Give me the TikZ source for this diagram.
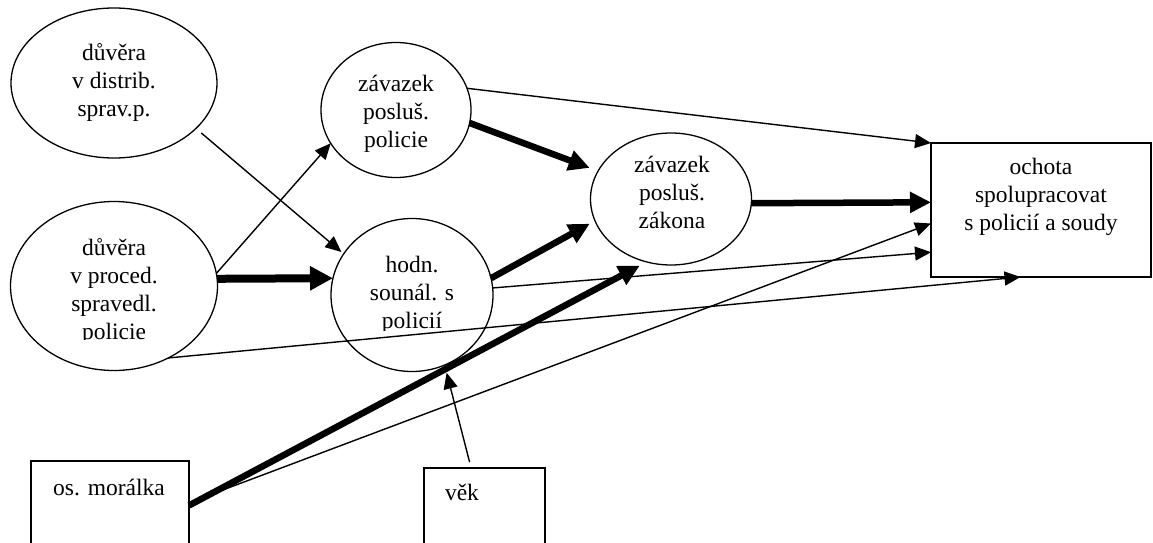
\documentclass[tikz,border=0pt]{standalone}
\usepackage{fontspec}
\setmainfont{Liberation Serif}
\usetikzlibrary{arrows.meta,shapes.geometric}
\begin{document}
\begin{tikzpicture}[x=1pt,y=-1pt,
  shapeline/.style={draw=black, line width=1.3pt, outer sep=0pt, inner sep=0pt},
  oval/.style={shapeline, ellipse},
  boxnode/.style={shapeline, rectangle},
  txt/.style={font=\fontsize{23.5}{28}\selectfont, align=center, inner sep=0pt},
  thinarrow/.style={line width=1.4pt, -{Triangle[length=16pt,width=14pt]}},
  thickarrow/.style={line width=6.5pt, -{Triangle[length=21pt,width=20pt]}},
  heavyarrow/.style={line width=8pt, -{Triangle[length=23pt,width=23pt]}},
]
\clip (0,0) rectangle (1153,543);
\fill[white] (0,0) rectangle (1153,543);

% shapes
\node[oval, minimum width=206pt, minimum height=150pt] (A) at (114,83) {};
\node[oval, minimum width=207pt, minimum height=169pt] (B) at (114,286) {};
\node[oval, minimum width=150pt, minimum height=135pt] (C) at (396,110) {};
\node[oval, minimum width=162pt, minimum height=153pt] (D) at (412,295) {};
\node[oval, minimum width=161pt, minimum height=132pt] (E) at (671,199) {};
\node[boxnode, minimum width=220pt, minimum height=134pt] (F) at (1041,210) {};
\node[boxnode, minimum width=158pt, minimum height=100pt] (M) at (110,511) {};
\node[boxnode, minimum width=121pt, minimum height=100pt] (V) at (484.5,518) {};

% texts
\node[txt] (At) at (114,82) {důvěra\\v distrib.\\sprav.p.};
\begin{scope}
  \clip (10,200) rectangle (220,339);
  \node[txt] (Bt) at (114,291.5) {důvěra\\v proced.\\spravedl.\\policie};
\end{scope}
\node[txt] (Ct) at (396,114) {závazek\\posluš.\\policie};
\begin{scope}
  \clip (330,220) rectangle (495,330);
  \node[txt] (Dt) at (412,295) {hodn.\\sounál. s\\policií};
\end{scope}
\node[txt] (Et) at (672,192.5) {závazek\\posluš.\\zákona};
\node[txt] (Ft) at (1041,197) {ochota\\spolupracovat\\s policií a soudy};
\node[txt] (Mt) at (109,487) {os. morálka};
\node[txt] (Vt) at (462,492) {věk};

% connectors
\draw[thinarrow, shorten <=7pt, shorten >=3pt] (A.-29) -- (D.149);
\draw[thinarrow] (B.7) -- (C.207);
\draw[heavyarrow] (B.4) -- (D.168);
\draw[thickarrow, shorten >=9pt] (C.-10) -- (E.159);
\draw[thinarrow] (C.17) -- (F.north west);
\draw[thickarrow, shorten >=6pt] (D.12) -- (E.196);
\draw[thinarrow] (D.5) -- (F.201);
\draw[thickarrow] (E.-3) -- (F.176);
\draw[thickarrow, shorten >=8pt] (M.4) -- (E.249);
\draw[thinarrow] (M.6) -- (F.187);
\draw[thinarrow] (B.-53) -- (F.253);
\draw[thinarrow, shorten <=6pt, shorten >=8pt] (V.105) -- (D.-65);
\end{tikzpicture}
\end{document}
